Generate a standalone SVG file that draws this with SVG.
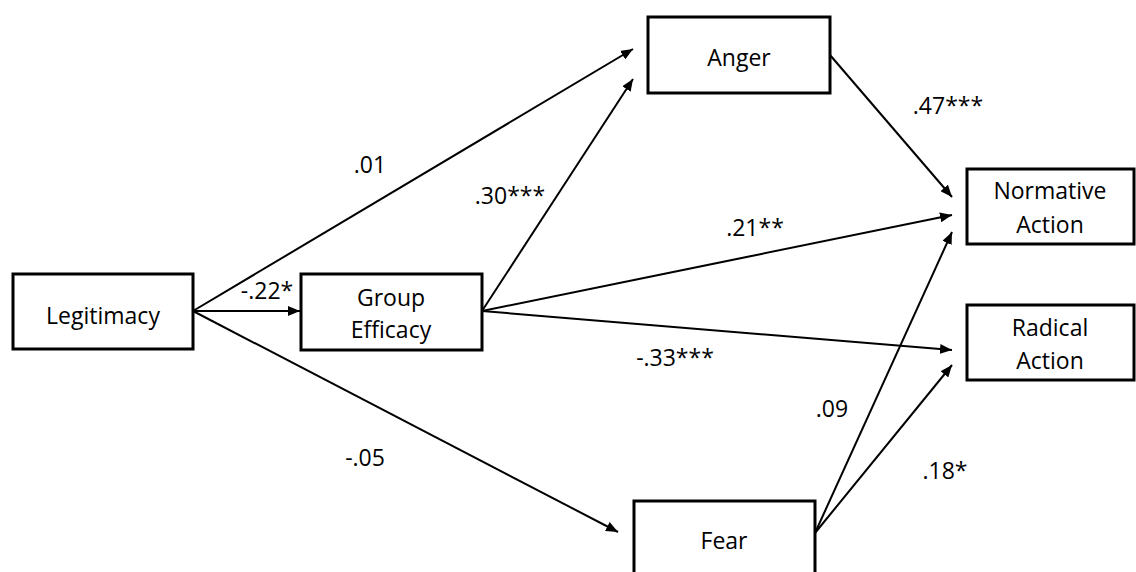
<svg xmlns="http://www.w3.org/2000/svg" width="1136" height="572" viewBox="0 0 1136 572">
<style>
.box{fill:#fff;stroke:#000;stroke-width:3}
.t{font-family:"Open Sans","Liberation Sans",sans-serif;font-size:23px;fill:#000;text-anchor:middle}
.lbl{font-family:"Open Sans","Liberation Sans",sans-serif;font-size:23px;fill:#000;text-anchor:middle}
.c{stroke:#000;stroke-width:2;fill:none;marker-end:url(#ah)}
</style>
<defs>
<marker id="ah" viewBox="0 0 12 10" refX="12" refY="5" markerWidth="12" markerHeight="10" markerUnits="userSpaceOnUse" orient="auto">
<path d="M0,0 L12,5 L0,10 Z" fill="#000"/>
</marker>
</defs>
<g id="connectors">
<line class="c" x1="193" y1="311" x2="633" y2="49"/>
<line class="c" x1="193" y1="311" x2="300" y2="311"/>
<line class="c" x1="193" y1="311" x2="618" y2="532"/>
<line class="c" x1="482" y1="311" x2="633" y2="79"/>
<line class="c" x1="482" y1="311" x2="952" y2="215"/>
<line class="c" x1="482" y1="311" x2="952" y2="350"/>
<line class="c" x1="830" y1="55" x2="952" y2="197"/>
<line class="c" x1="815" y1="533" x2="952" y2="232"/>
<line class="c" x1="815" y1="533" x2="952" y2="365"/>
</g>
<g id="labels">
<text class="lbl" x="370" y="173">.01</text>
<text class="lbl" x="510" y="204">.30***</text>
<text class="lbl" x="755" y="236">.21**</text>
<text class="lbl" x="267" y="299">-.22*</text>
<text class="lbl" x="675" y="366">-.33***</text>
<text class="lbl" x="365" y="466">-.05</text>
<text class="lbl" x="832" y="417">.09</text>
<text class="lbl" x="945" y="479">.18*</text>
<text class="lbl" x="948" y="114">.47***</text>
</g>
<g id="legitimacy">
<rect class="box" x="13" y="274" width="180" height="75"/>
<text class="t" x="103" y="324">Legitimacy</text>
</g>
<g id="group-efficacy">
<rect class="box" x="301" y="274" width="181" height="76"/>
<text class="t" x="391" y="306">Group</text>
<text class="t" x="391" y="338">Efficacy</text>
</g>
<g id="anger">
<rect class="box" x="648" y="17" width="182" height="76"/>
<text class="t" x="739" y="66">Anger</text>
</g>
<g id="normative-action">
<rect class="box" x="967" y="169" width="167" height="75"/>
<text class="t" x="1050" y="199">Normative</text>
<text class="t" x="1050" y="233">Action</text>
</g>
<g id="radical-action">
<rect class="box" x="967" y="305" width="167" height="75"/>
<text class="t" x="1050" y="336">Radical</text>
<text class="t" x="1050" y="369">Action</text>
</g>
<g id="fear">
<rect class="box" x="634" y="501" width="181" height="80"/>
<text class="t" x="724" y="549">Fear</text>
</g>
</svg>
